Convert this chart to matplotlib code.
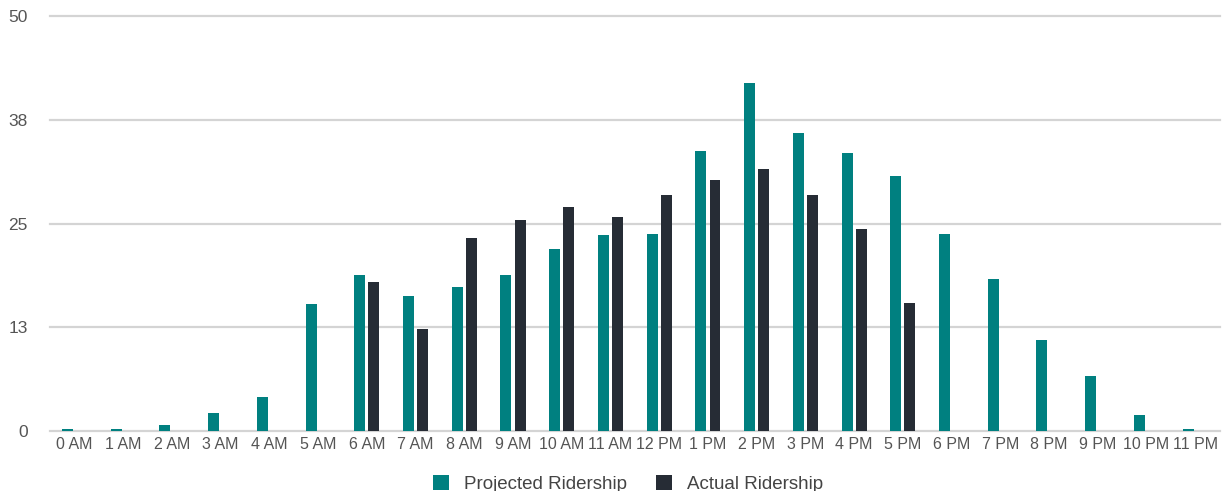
import numpy as np
import matplotlib
matplotlib.use("Agg")
import matplotlib.pyplot as plt

plt.rcParams['font.family'] = ['Liberation Sans', 'DejaVu Sans']

#### DATA ######
hours = ['0 AM', '1 AM', '2 AM', '3 AM', '4 AM', '5 AM', '6 AM', '7 AM', '8 AM', '9 AM',
         '10 AM', '11 AM', '12 PM', '1 PM', '2 PM', '3 PM', '4 PM', '5 PM', '6 PM', '7 PM',
         '8 PM', '9 PM', '10 PM', '11 PM']
projected = [0.2, 0.2, 0.7, 2.2, 4.1, 15.3, 18.8, 16.3, 17.4, 18.8, 21.9, 23.6,
             23.7, 33.7, 41.9, 35.9, 33.5, 30.8, 23.7, 18.3, 11.0, 6.6, 1.9, 0.2]
actual = [None, None, None, None, None, None, 18.0, 12.3, 23.3, 25.4, 27.0, 25.8,
          28.4, 30.3, 31.6, 28.4, 24.3, 15.4, None, None, None, None, None, None]
yticks = [0, 12.5, 25, 37.5, 50]
yticklabels = ['0', '13', '25', '38', '50']
################

teal = '#008080'
dark = '#262c35'
grey_txt = '#555555'

fig = plt.figure(figsize=(12.22, 4.91), dpi=100)
ax = fig.add_axes([0.041, 0.122, 0.957, 0.845])

x = np.arange(len(hours))
w = 0.225
off = 0.145

ax.bar(x - off, projected, width=w, color=teal, label='Projected Ridership', zorder=3)
ax_x = [xi + off for xi, v in zip(x, actual) if v is not None]
ax_v = [v for v in actual if v is not None]
ax.bar(ax_x, ax_v, width=w, color=dark, label='Actual Ridership', zorder=3)

ax.set_xlim(-0.5, len(hours) - 0.5)
ax.set_ylim(0, 50)
ax.set_yticks(yticks)
ax.set_yticklabels(yticklabels)
ax.set_xticks(x)
ax.set_xticklabels(hours)

for yv in yticks:
    ax.axhline(yv, color='#d4d4d4', lw=1.6, zorder=1, clip_on=False)

for s in ax.spines.values():
    s.set_visible(False)
ax.tick_params(axis='both', length=0, colors=grey_txt)
ax.tick_params(axis='x', labelsize=11.5, pad=4)
ax.tick_params(axis='y', labelsize=12.5, pad=16)

fig.legend(loc='center', bbox_to_anchor=(0.514, 0.014), ncol=2, frameon=False,
           fontsize=13.5, handlelength=0.85, handleheight=0.85, handletextpad=0.85,
           columnspacing=1.5, labelcolor='#444444')

fig.savefig('out.png', dpi=100)
